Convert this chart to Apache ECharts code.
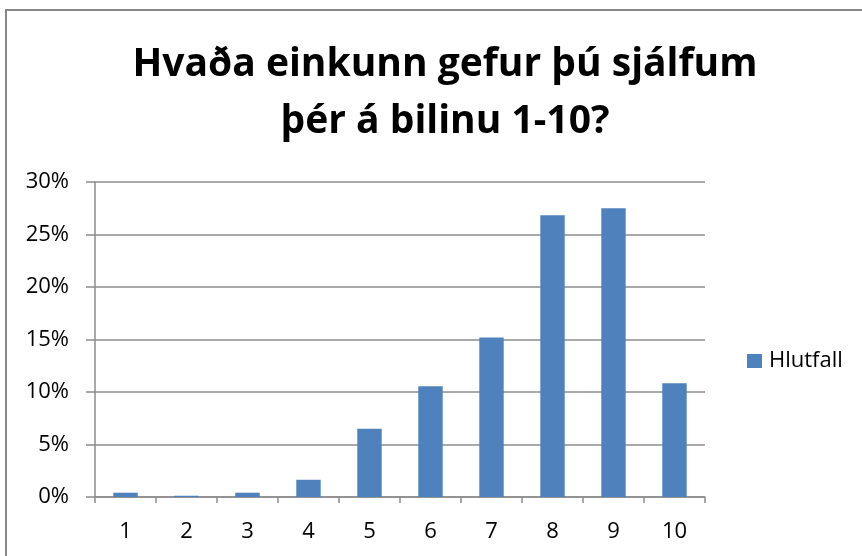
<!DOCTYPE html>
<html>
<head>
<meta charset="utf-8">
<script src="https://cdn.jsdelivr.net/npm/echarts@6/dist/echarts.min.js"></script>
<style>
  html, body { margin: 0; padding: 0; background: #fff; }
  #chart { width: 862px; height: 556px; }
</style>
</head>
<body>
<div id="chart"></div>
<script>
// gildi lesin af myndinni
const categories = ['1', '2', '3', '4', '5', '6', '7', '8', '9', '10'];
const hlutfall = [0.0041, 0.0012, 0.0041, 0.0164, 0.0649, 0.1055, 0.152, 0.2683, 0.275, 0.1084];
const seriesName = 'Hlutfall';
const titleLines = ['Hvaða einkunn gefur þú sjálfum', 'þér á bilinu 1-10?'];

const gray = '#8c8c8c';
const font = 'Open Sans';

const chart = echarts.init(document.getElementById('chart'));

const option = {
    animation: false,
    backgroundColor: '#fff',
    title: {
        text: titleLines.join('\n'),
        left: 440,
        top: 31,
        textAlign: 'center',
        textStyle: {
            fontFamily: font,
            fontWeight: 'bold',
            fontSize: 39,
            lineHeight: 57,
            color: '#000'
        }
    },
    legend: {
        data: [seriesName],
        left: 742,
        top: 345,
        itemWidth: 15,
        itemHeight: 14,
        icon: 'rect',
        textStyle: {
            fontFamily: font,
            fontSize: 22,
            color: '#000',
            padding: [0, 0, 0, 2]
        }
    },
    grid: {
        left: 95,
        right: 157,
        top: 182,
        bottom: 59
    },
    xAxis: {
        type: 'category',
        data: categories,
        axisLine: { lineStyle: { color: gray, width: 1.5 } },
        axisTick: { show: true, length: 6, lineStyle: { color: gray, width: 1.5 } },
        axisLabel: {
            margin: 24,
            fontFamily: font,
            fontSize: 22,
            color: '#000'
        }
    },
    yAxis: {
        type: 'value',
        min: 0,
        max: 0.3,
        interval: 0.05,
        axisLine: { show: true, lineStyle: { color: gray, width: 1.5 } },
        axisTick: { show: true, length: 9, lineStyle: { color: gray, width: 1.5 } },
        splitLine: { lineStyle: { color: gray, width: 1.5 } },
        axisLabel: {
            margin: 26,
            fontFamily: font,
            fontSize: 22,
            color: '#000',
            formatter: function (v) { return Math.round(v * 100) + '%'; }
        }
    },
    series: [
        {
            name: seriesName,
            type: 'bar',
            data: hlutfall,
            barCategoryGap: '60%',
            itemStyle: { color: '#4f81bd' }
        }
    ],
    graphic: [
        {
            type: 'rect',
            shape: { x: 6, y: 10, width: 900, height: 600 },
            style: { fill: 'none', stroke: '#888', lineWidth: 2 },
            silent: true
        }
    ]
};

chart.setOption(option);
</script>
</body>
</html>
